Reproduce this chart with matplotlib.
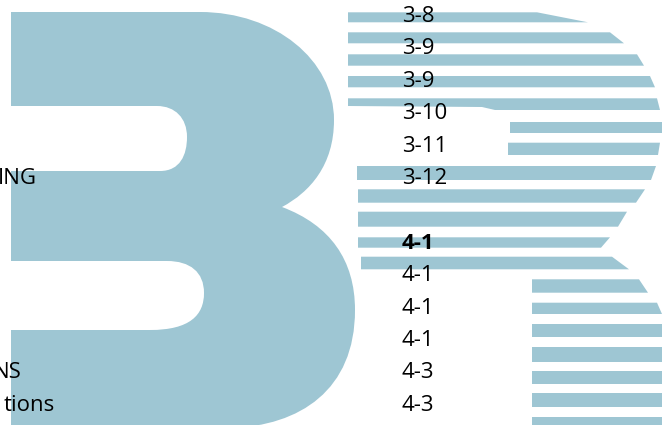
"""
3R logo strip with page-number column (table of contents fragment)
"""

import matplotlib
matplotlib.use('Agg')
import matplotlib.pyplot as plt
from matplotlib.path import Path
from matplotlib.patches import PathPatch, Polygon

# Page numbers in the right column (row index, label, bold)
page_rows = [0, 1, 2, 3, 4, 5, 7, 8, 9, 10, 11, 12]
page_labels = ['3-8', '3-9', '3-9', '3-10', '3-11', '3-12',
               '4-1', '4-1', '4-1', '4-1', '4-3', '4-3']
page_bold = [False, False, False, False, False, False,
             True, False, False, False, False, False]

# Cut-off section titles on the left edge
title_rows = [5, 11, 12]
title_labels = ['ING', 'NS', 'tions']
title_right = [37, 22, 55]

# Stripes of the "R" (pixel geometry of the logo)
stripe_top = [12.3, 32.3, 54.3, 76, 98.3, 121.7, 142.7, 166, 189.3, 211.7,
              237.3, 256.7, 279.3, 302.7, 324, 347.3, 370.7, 392.7, 417.3]
stripe_bot = [22.3, 43.3, 65.7, 87.3, 110, 132.7, 155, 180, 202.7, 226.7,
              247.7, 269.3, 292.7, 314, 337, 361.7, 384, 406.7, 430]
stripe_left = [348, 348, 348, 348, 348, 510, 508, 357, 358, 358,
               358, 361, 532, 532, 532, 532, 532, 532, 532]
stripe_rtop = [537, 610, 637, 650, 657, 670, 660, 656, 645, 627,
               610, 612, 639, 657, 670, 670, 670, 670, 670]
stripe_rbot = [588, 624, 644, 655, 660, 670, 658, 651, 636, 618,
               601, 629, 648, 662, 670, 670, 670, 670, 670]

logo_color = '#9ec6d3'

fig = plt.figure(figsize=(6.62, 4.25), dpi=100)
ax = fig.add_axes([0, 0, 1, 1])
ax.set_xlim(0, 662)
ax.set_ylim(425, 0)
ax.axis('off')

# The big "3"
M, L, C, Z = Path.MOVETO, Path.LINETO, Path.CURVE4, Path.CLOSEPOLY
verts = [
    (11, 12), (200, 12),
    (275, 12), (334, 60), (334, 120),
    (334, 165), (310, 192), (282, 207),
    (330, 225), (355, 260), (355, 310),
    (355, 390), (300, 426), (230, 428),
    (11, 428), (11, 330), (150, 330),
    (190, 330), (204, 315), (204, 293),
    (204, 272), (190, 261), (167, 261),
    (11, 261), (11, 171), (160, 171),
    (180, 171), (187, 155), (187, 137),
    (187, 118), (175, 106), (157, 106),
    (11, 106), (11, 12),
]
codes = [M, L, C, C, C, C, C, C, C, C, C, C, C, C,
         L, L, L, C, C, C, C, C, C, L, L, L, C, C, C, C, C, C, L, Z]
ax.add_patch(PathPatch(Path(verts, codes), facecolor=logo_color,
                       edgecolor='none', zorder=1))

# The striped "R"
for i, (top, bot, left, rt, rb) in enumerate(zip(stripe_top, stripe_bot,
                                                 stripe_left, stripe_rtop,
                                                 stripe_rbot)):
    pts = [(left, top), (rt, top), (rb, bot)]
    if i == 4:
        # bottom edge dips around the counter of the R
        pts += [(495, bot), (482, bot - 3), (left, bot - 4)]
    else:
        pts += [(left, bot)]
    ax.add_patch(Polygon(pts, closed=True, facecolor=logo_color,
                         edgecolor='none', zorder=1))

# Text rows share a fixed baseline pitch
def baseline(row):
    return 22 + 32.4 * row

font = ['Open Sans', 'DejaVu Sans']
for row, lab, bold in zip(page_rows, page_labels, page_bold):
    ax.text(402, baseline(row), lab, ha='left', va='baseline',
            fontsize=16, family=font,
            fontweight='bold' if bold else 'normal', color='black', zorder=3)

for row, lab, xr in zip(title_rows, title_labels, title_right):
    ax.text(xr, baseline(row), lab, ha='right', va='baseline',
            fontsize=16, family=font, color='black', zorder=3)

plt.savefig('out.png', dpi=100)
plt.close()
